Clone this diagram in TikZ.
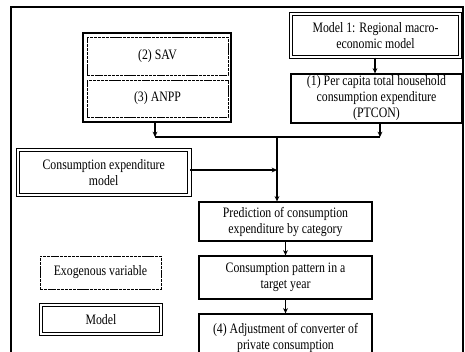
\documentclass[tikz,border=0pt]{standalone}
\usepackage{fontspec}
\setmainfont[FakeStretch=0.82]{Liberation Serif}
\usetikzlibrary{arrows.meta}
\begin{document}
\begin{tikzpicture}[x=0.75pt,y=-0.75pt,
		font=\fontsize{10.8}{12}\selectfont,
		box/.style={draw, line width=0.9pt, align=center, inner sep=0pt},
		exo/.style={box, line width=0.6pt, dash pattern=on 2.5pt off 0.6pt},
		model/.style={box, line width=0.75pt, double, double distance=2.2pt},
		arr/.style={line width=0.8pt, -{Stealth[length=4pt,width=3.6pt]}}]
				\useasboundingbox (0,0) rectangle (465,351);
				\clip (0,0) rectangle (465,351);
				\draw[line width=1.8pt] (11,380) -- (11,7) -- (463,7) -- (463,380);
				
				\node[box, minimum width=111pt, minimum height=66.75pt] (grp) at (157,77.5) {};
				\node[exo, minimum width=105.75pt, minimum height=28.5pt] (sav) at (157.5,56) {(2) SAV};
				\node[exo, minimum width=105.75pt, minimum height=27.75pt] (anpp) at (157.5,98.5) {(3) ANPP};
				
				\node[model, minimum width=126.75pt, minimum height=32.25pt] (mone) at (375.5,35.5) {Model 1: Regional macro-\\economic model};
				\node[box, minimum width=128.25pt, minimum height=36.75pt] (ptcon) at (376.5,98.5) {(1) Per capita total household\\consumption expenditure\\(PTCON)};
				
				\node[model, minimum width=128.6pt, minimum height=33.75pt] (cem) at (103.75,172.5) {Consumption expenditure\\model};
				
				\node[box, minimum width=129.75pt, minimum height=29.25pt] (pred) at (285.5,221.5) {Prediction of consumption\\expenditure by category};
				\node[box, minimum width=129.75pt, minimum height=32.25pt] (pat) at (285.5,277.5) {Consumption pattern in a\\target year};
				\node[box, minimum width=129.75pt, minimum height=36pt] (adj) at (285.5,338) {(4) Adjustment of converter of\\private consumption};
				
				\node[exo, minimum width=90.75pt, minimum height=24.75pt] (exov) at (100.5,272.5) {Exogenous variable};
				\node[model, minimum width=90pt, minimum height=21.75pt] (mdl) at (101,319.5) {Model};
				
				\coordinate (jl) at (155,137);
				\coordinate (jm) at (277,137);
				\coordinate (jr) at (380,137);
				
				\draw[arr] (grp.south -| jl) -- (jl);
				\draw[arr] (ptcon.south -| jr) -- (jr);
				\draw[line width=0.8pt] (jl) -- (jr);
				\draw[arr] (jm) -- (pred.north -| jm);
				\draw[arr] (cem.east |- 0,170) -- (jm |- 0,170);
				\draw[arr] (mone.south -| 375,0) -- (ptcon.north -| 375,0);
				\draw[arr] (pred) -- (pat);
				\draw[arr] (pat) -- (adj);
			\end{tikzpicture}
\end{document}
